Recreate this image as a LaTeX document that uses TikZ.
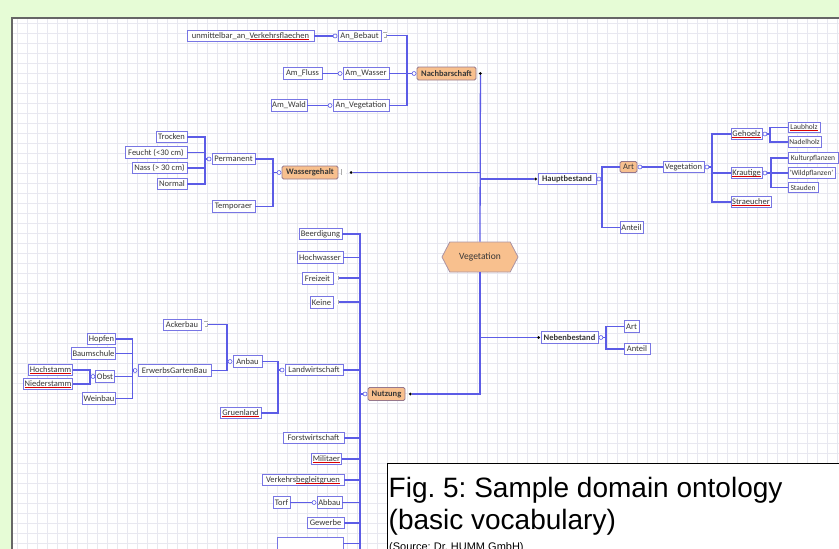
\documentclass[tikz,border=0pt]{standalone}
\usepackage{fontspec}
\setmainfont{Carlito}
\newfontfamily\capfont{Liberation Sans}
\usetikzlibrary{shapes.symbols}
\definecolor{bggreen}{RGB}{230,252,214}
\definecolor{gridc}{RGB}{232,232,240}
\definecolor{boxc}{RGB}{120,118,228}
\definecolor{linec}{RGB}{92,92,230}
\definecolor{orng}{RGB}{248,192,142}
\definecolor{orngb}{RGB}{150,120,140}
\definecolor{txt}{RGB}{55,55,55}
\newsavebox{\splbox}
\newcommand{\spl}[1]{\leavevmode\sbox{\splbox}{#1}\rlap{\color{red!85!black}\rule[-1.2pt]{\wd\splbox}{0.5pt}}\usebox{\splbox}}
\begin{document}
\begin{tikzpicture}[x=1pt,y=-1pt,
 bx/.style={draw=boxc, fill=white, line width=0.9, inner sep=1, minimum height=11.5, text=txt, font=\fontsize{8.5}{9}\selectfont},
 bbx/.style={bx, font=\fontsize{8.5}{9}\selectfont\bfseries},
 sbx/.style={bx, font=\fontsize{7.5}{8}\selectfont, minimum height=10.5},
 obx/.style={bx, fill=orng, draw=orngb, rounded corners=1.5, minimum height=13, font=\fontsize{8.5}{9}\selectfont\bfseries},
 conn/.style={draw=linec, line width=1.3},
 circ/.style={circle, draw=linec, fill=white, inner sep=0, minimum size=4, line width=0.6},
 bdot/.style={circle, fill=black, inner sep=0, minimum size=3},
 ico/.style={draw=gray!65, fill=white, inner sep=0, minimum width=3.5, minimum height=5, line width=0.4, double=white, double distance=0.5},
]
\useasboundingbox (0,0) rectangle (839,549);
\begin{scope}
\clip (0,0) rectangle (839,549);
\fill[bggreen] (0,0) rectangle (839,549);
\fill[white] (12,18) rectangle (850,560);
\foreach \x in {17,27,...,839} \draw[gridc, line width=0.5] (\x,18) -- (\x,549);
\foreach \y in {23,33,...,549} \draw[gridc, line width=0.5] (12,\y) -- (839,\y);
\draw[gray!80!black, line width=1.2] (12,560) -- (12,18) -- (850,18);

% ---------- Nachbarschaft ----------
\node[bx, minimum width=127] (uvf) at (250.5,36) {unmittelbar\_an\_\spl{Verkehrsflaechen}};
\node[bx, minimum width=43] (bebaut) at (359.5,36) {An\_Bebaut};
\node[ico] (bebauti) at (385,35.5) {};
\node[bx, minimum width=39] (fluss) at (302.5,73.5) {Am\_Fluss};
\node[bx, minimum width=46] (amwasser) at (366,73.5) {Am\_Wasser};
\node[bx, minimum width=36] (wald) at (289,105.5) {Am\_Wald};
\node[bx, minimum width=56] (anveg) at (361,105.5) {An\_Vegetation};
\node[obx, minimum width=59] (nachbar) at (446.5,73.5) {Nachbarschaft};
\node[circ] (bebautc) at ([xshift=-2.5]bebaut.west) {};
\node[circ] (amwasserc) at ([xshift=-2.5]amwasser.west) {};
\node[circ] (anvegc) at ([xshift=-2.5]anveg.west) {};
\node[circ] (nachbarc) at ([xshift=-2.5]nachbar.west) {};
\node[bdot] (nachd) at ([xshift=4]nachbar.east) {};
\coordinate (jn) at (407,73.5);
\draw[conn] (uvf.east) -- (bebautc);
\draw[conn] (fluss.east) -- (amwasserc);
\draw[conn] (wald.east) -- (anvegc);
\draw[conn] (bebauti.east) -| (jn);
\draw[conn] (amwasser.east) -| (jn);
\draw[conn] (anveg.east) -| (jn);
\draw[conn] (jn) -- (nachbarc);

% ---------- Wassergehalt ----------
\node[bx, minimum width=31] (trocken) at (171.5,137) {Trocken};
\node[bx, minimum width=62] (feucht) at (156,152.5) {Feucht (<30 cm)};
\node[bx, minimum width=55] (nass) at (159.5,168) {Nass (> 30 cm)};
\node[bx, minimum width=30] (normal) at (172,184) {Normal};
\node[bx, minimum width=43] (perm) at (233.5,159) {Permanent};
\node[bx, minimum width=43] (temp) at (233.5,206.5) {Temporaer};
\node[obx, minimum width=56] (wg) at (310,172.5) {Wassergehalt};
\node[ico] (wgi) at (343.5,172) {};
\node[bdot] (wgd) at (351,172.5) {};
\node[circ] (permc) at ([xshift=-2.5]perm.west) {};
\node[circ] (wgc) at ([xshift=-2.5]wg.west) {};
\coordinate (jp) at (205,159);
\coordinate (jw) at (273,172.5);
\draw[conn] (trocken.east) -| (jp);
\draw[conn] (feucht.east) -| (jp);
\draw[conn] (nass.east) -| (jp);
\draw[conn] (normal.east) -| (jp);
\draw[conn] (jp) -- (permc);
\draw[conn] (perm.east) -| (jw);
\draw[conn] (temp.east) -| (jw);
\draw[conn] (jw) -- (wgc);

% ---------- Hauptbestand ----------
\node[bbx, minimum width=58] (haupt) at (567,179) {Hauptbestand};
\node[bdot] (hauptd) at ([xshift=-2]haupt.west) {};
\node[circ] (hauptc) at ([xshift=2.5]haupt.east) {};
\coordinate (jh) at (602,179);
\node[obx, minimum width=17, minimum height=11, font=\fontsize{8.5}{9}\selectfont] (art) at (628.5,167) {Art};
\node[circ] (artc) at ([xshift=2.5]art.east) {};
\node[bx, minimum width=23] (anteil) at (631.5,227.5) {Anteil};
\node[bx, minimum width=41] (vegs) at (683.5,167) {Vegetation};
\node[circ] (vegsc) at ([xshift=2.5]vegs.east) {};
\coordinate (jv) at (712,167);
\node[bx, minimum width=31] (gehoelz) at (746.5,134) {\spl{Gehoelz}};
\node[circ] (gehoelzc) at ([xshift=2.5]gehoelz.east) {};
\coordinate (jg) at (770,134);
\node[sbx, minimum width=32] (laub) at (804,127.5) {\spl{Laubholz}};
\node[sbx, minimum width=33] (nadel) at (804.5,142) {Nadelholz};
\node[bx, minimum width=31] (kraut) at (746.5,173) {\spl{Krautige}};
\node[circ] (krautc) at ([xshift=2.5]kraut.east) {};
\coordinate (jk) at (771,173);
\node[sbx, minimum width=50] (kultur) at (813,158) {Kulturpflanzen};
\node[sbx, minimum width=47] (wild) at (811.5,173) {'Wildpflanzen'};
\node[sbx, minimum width=30] (stauden) at (803,187.5) {Stauden};
\node[bx, minimum width=40] (straeu) at (751,202) {\spl{Straeucher}};
\draw[conn] (art.west) -| (jh);
\draw[conn] (anteil.west) -| (jh);
\draw[conn] (hauptc) -- (jh);
\draw[conn] (artc) -- (vegs.west);
\draw[conn] (gehoelz.west) -| (jv);
\draw[conn] (kraut.west) -| (jv);
\draw[conn] (straeu.west) -| (jv);
\draw[conn] (vegsc) -- (jv);
\draw[conn] (laub.west) -| (jg);
\draw[conn] (nadel.west) -| (jg);
\draw[conn] (gehoelzc) -- (jg);
\draw[conn] (kultur.west) -| (jk);
\draw[conn] (wild.west) -| (jk);
\draw[conn] (stauden.west) -| (jk);
\draw[conn] (krautc) -- (jk);

% ---------- Vegetation (root) ----------
\node[signal, signal to=east and west, signal pointer angle=125, draw=orngb!80, fill=orng, line width=0.8, minimum width=76, minimum height=30, inner sep=2, text=txt, font=\fontsize{9.5}{10}\selectfont] (veg) at (480,257) {Vegetation};

% ---------- Nebenbestand ----------
\node[bbx, minimum width=57] (neben) at (569.5,337.5) {Nebenbestand};
\node[bdot] (nebend) at ([xshift=-2]neben.west) {};
\node[circ] (nebenc) at ([xshift=2.5]neben.east) {};
\coordinate (jnb) at (606,337.5);
\node[bx, minimum width=15] (art2) at (631.5,326.5) {Art};
\node[bx, minimum width=26] (anteil2) at (637,349) {Anteil};
\draw[conn] (art2.west) -| (jnb);
\draw[conn] (anteil2.west) -| (jnb);
\draw[conn] (nebenc) -- (jnb);

% ---------- Nutzung ----------
\node[obx, minimum width=37] (nutz) at (386.5,394) {Nutzung};
\node[circ] (nutzc) at ([xshift=-2.5]nutz.west) {};
\node[bdot] (nutzd) at ([xshift=5]nutz.east) {};
\coordinate (jnu) at (360,394);
\coordinate (nuend) at (360,552);
\node[bx, minimum width=43] (beerd) at (320.5,234) {Beerdigung};
\node[bx, minimum width=46] (hochw) at (320,257.5) {Hochwasser};
\node[bx, minimum width=31] (freiz) at (317.5,278.5) {Freizeit};
\node[ico] (freizi) at (337,278) {};
\node[bx, minimum width=23] (keine) at (321.5,302.5) {Keine};
\node[ico] (keinei) at (337,302) {};
\node[bx, minimum width=58] (landw) at (314,370) {Landwirtschaft};
\node[bx, minimum width=61] (forst) at (313.5,438) {Forstwirtschaft};
\node[bx, minimum width=29] (milit) at (326.5,459) {\spl{Militaer}};
\node[bx, minimum width=82] (verk) at (303,480) {Verkehrs\spl{begleitgruen}};
\node[bx, minimum width=25] (abbau) at (329.5,502.5) {Abbau};
\node[circ] (abbauc) at ([xshift=-2.5]abbau.west) {};
\node[bx, minimum width=17] (torf) at (281.5,502.5) {Torf};
\node[bx, minimum width=37] (gewerbe) at (325.5,523) {Gewerbe};
\node[bx, minimum width=66] (lastbox) at (310,543.5) {};
\draw[conn] (torf.east) -- (abbauc);
\draw[conn] (beerd.east) -| (jnu);
\draw[conn] (hochw.east) -| (jnu);
\draw[conn] (freizi.east) -| (jnu);
\draw[conn] (keinei.east) -| (jnu);
\draw[conn] (landw.east) -| (jnu);
\draw[conn] (forst.east) -| (jnu);
\draw[conn] (milit.east) -| (jnu);
\draw[conn] (verk.east) -| (jnu);
\draw[conn] (abbau.east) -| (jnu);
\draw[conn] (gewerbe.east) -| (jnu);
\draw[conn] (lastbox.east) -| (jnu);
\draw[conn] (jnu) -- (nuend);
\draw[conn] (jnu) -- (nutzc);

% Landwirtschaft subtree
\node[circ] (landwc) at ([xshift=-2.5]landw.west) {};
\coordinate (jl) at (278,370);
\node[bx, minimum width=29] (anbau) at (247.5,361.5) {Anbau};
\node[circ] (anbauc) at ([xshift=-2.5]anbau.west) {};
\node[bx, minimum width=41] (gruen) at (240.5,413) {\spl{Gruenland}};
\coordinate (ja) at (227,361.5);
\node[bx, minimum width=38] (acker) at (182,325) {Ackerbau};
\node[ico] (ackeri) at (206,324.5) {};
\node[bx, minimum width=73] (erwerbs) at (174.5,370.5) {ErwerbsGartenBau};
\node[circ] (erwerbsc) at ([xshift=-2.5]erwerbs.west) {};
\coordinate (je) at (132.5,370.5);
\node[bx, minimum width=27] (hopfen) at (101.5,339) {Hopfen};
\node[bx, minimum width=43] (baum) at (93.5,353.5) {Baumschule};
\node[bx, minimum width=16] (obst) at (105,376.5) {Obst};
\node[circ] (obstc) at ([xshift=-2.5]obst.west) {};
\node[bx, minimum width=32] (wein) at (99,398.5) {Weinbau};
\coordinate (jo) at (90,376.5);
\node[bx, minimum width=41] (hochst) at (50.5,370) {\spl{Hochstamm}};
\node[bx, minimum width=46] (nieder) at (48,384) {\spl{Niederstamm}};
\draw[conn] (anbau.east) -| (jl);
\draw[conn] (gruen.east) -| (jl);
\draw[conn] (jl) -- (landwc);
\draw[conn] (ackeri.east) -| (ja);
\draw[conn] (erwerbs.east) -| (ja);
\draw[conn] (ja) -- (anbauc);
\draw[conn] (hopfen.east) -| (je);
\draw[conn] (baum.east) -| (je);
\draw[conn] (obst.east) -| (je);
\draw[conn] (wein.east) -| (je);
\draw[conn] (je) -- (erwerbsc);
\draw[conn] (hochst.east) -| (jo);
\draw[conn] (nieder.east) -| (jo);
\draw[conn] (jo) -- (obstc);

% ---------- trunk ----------
\draw[conn] (nachd) -- (veg.north);
\draw[conn] (wgd) -- (wgd -| veg.north);
\draw[conn] (hauptd) -- (hauptd -| veg.north);
\draw[conn] (veg.south) |- (nutzd);
\draw[conn] (nebend) -- (nebend -| veg.south);

% ---------- caption ----------
\draw[black, line width=0.9, fill=white] (387,463.5) rectangle (850,560);
\node[anchor=base west, inner sep=0, font=\capfont\frenchspacing\fontsize{28}{30}\selectfont] (cap1) at (388.5,497) {Fig. 5: Sample domain ontology};
\node[anchor=base west, inner sep=0, font=\capfont\frenchspacing\fontsize{28}{30}\selectfont] (cap2) at (388.5,529) {(basic vocabulary)};
\node[anchor=base west, inner sep=0, font=\capfont\frenchspacing\fontsize{11}{12}\selectfont] (cap3) at (389,550.5) {(Source: Dr. HUMM GmbH)};
\end{scope}
\end{tikzpicture}
\end{document}
